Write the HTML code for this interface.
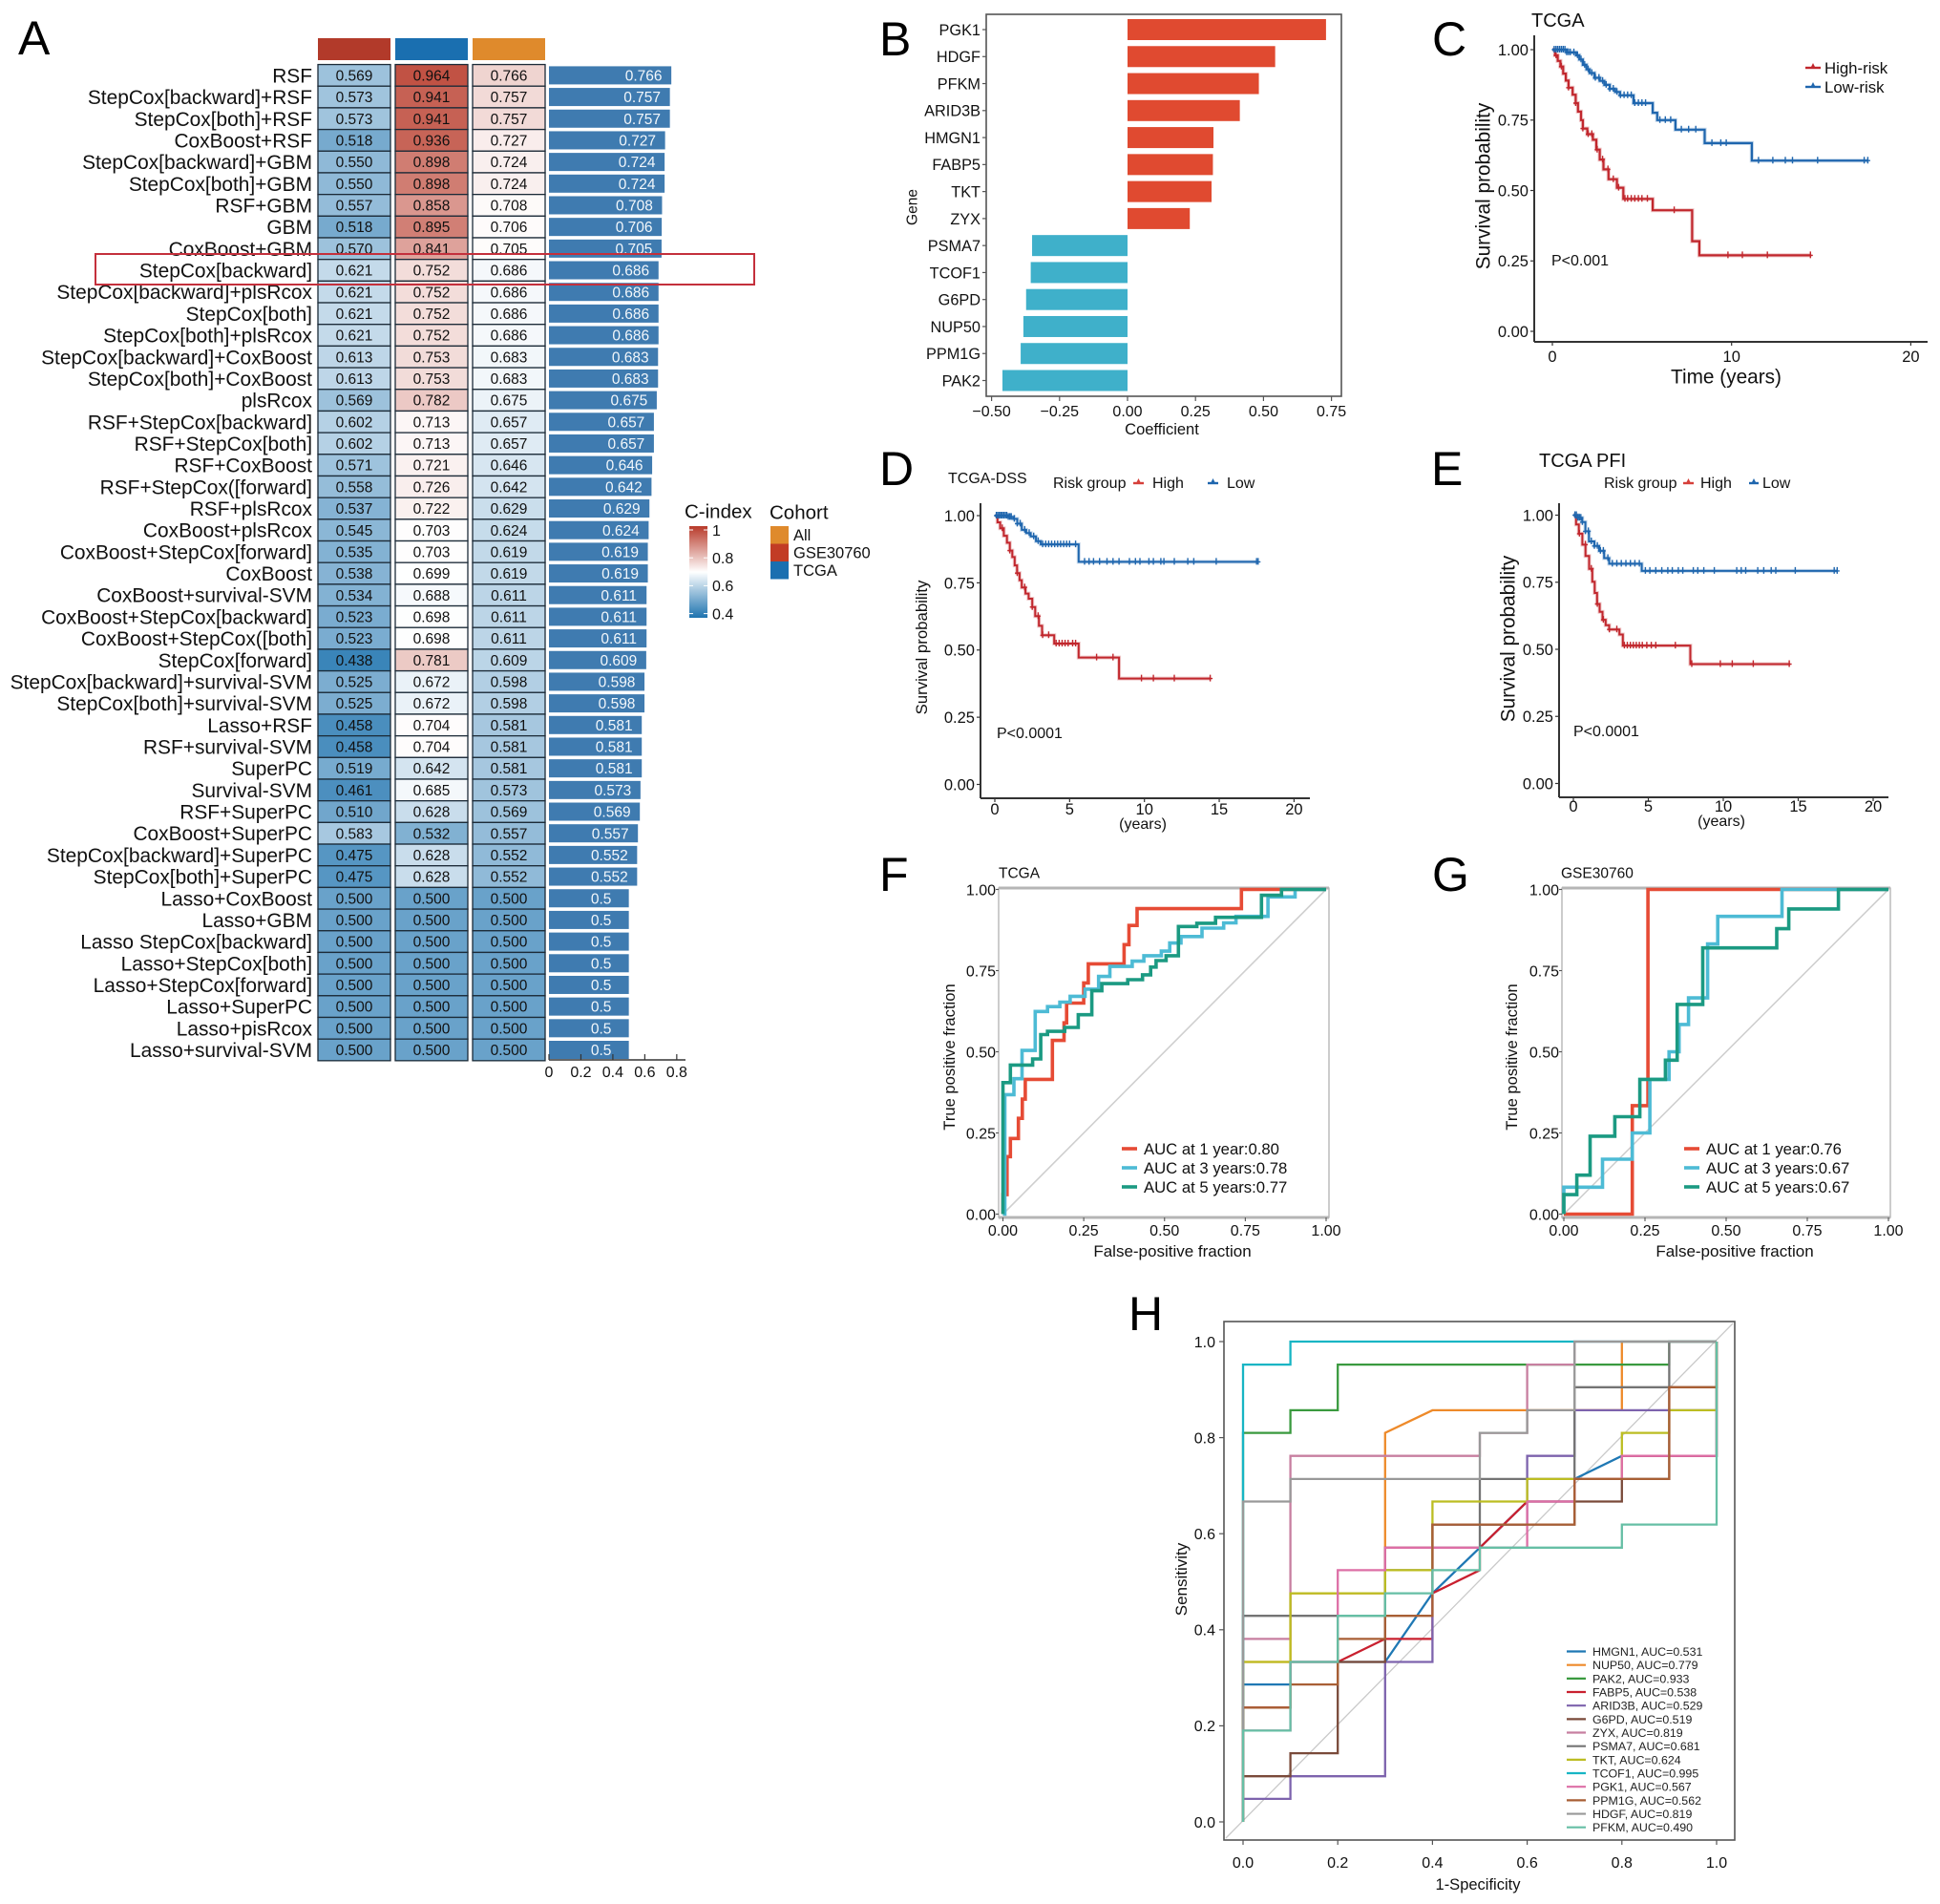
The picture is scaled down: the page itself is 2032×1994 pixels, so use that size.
<!DOCTYPE html>
<html lang="en">
<head>
<meta charset="utf-8">
<title>Prognostic model figure</title>
<style>
html,body{margin:0;padding:0;background:#fff;}
svg{display:block;font-family:"Liberation Sans",Arial,sans-serif;}
</style>
</head>
<body>
<svg id="fig" width="2032" height="1994" viewBox="0 0 2032 1994">
  <g id="panelA"></g>
  <g id="panelB"></g>
  <g id="panelC"></g>
  <g id="panelD"></g>
  <g id="panelE"></g>
  <g id="panelF"></g>
  <g id="panelG"></g>
  <g id="panelH"></g>
</svg>
<script>
/* ===== Panel A data ===== */
const modelNames=["RSF","StepCox[backward]+RSF","StepCox[both]+RSF","CoxBoost+RSF","StepCox[backward]+GBM","StepCox[both]+GBM","RSF+GBM","GBM","CoxBoost+GBM","StepCox[backward]","StepCox[backward]+plsRcox","StepCox[both]","StepCox[both]+plsRcox","StepCox[backward]+CoxBoost","StepCox[both]+CoxBoost","plsRcox","RSF+StepCox[backward]","RSF+StepCox[both]","RSF+CoxBoost","RSF+StepCox([forward]","RSF+plsRcox","CoxBoost+plsRcox","CoxBoost+StepCox[forward]","CoxBoost","CoxBoost+survival-SVM","CoxBoost+StepCox[backward]","CoxBoost+StepCox([both]","StepCox[forward]","StepCox[backward]+survival-SVM","StepCox[both]+survival-SVM","Lasso+RSF","RSF+survival-SVM","SuperPC","Survival-SVM","RSF+SuperPC","CoxBoost+SuperPC","StepCox[backward]+SuperPC","StepCox[both]+SuperPC","Lasso+CoxBoost","Lasso+GBM","Lasso StepCox[backward]","Lasso+StepCox[both]","Lasso+StepCox[forward]","Lasso+SuperPC","Lasso+pisRcox","Lasso+survival-SVM"];
const cindexGSE=[.569,.573,.573,.518,.550,.550,.557,.518,.570,.621,.621,.621,.621,.613,.613,.569,.602,.602,.571,.558,.537,.545,.535,.538,.534,.523,.523,.438,.525,.525,.458,.458,.519,.461,.510,.583,.475,.475,.5,.5,.5,.5,.5,.5,.5,.5];
const cindexTCGA=[.964,.941,.941,.936,.898,.898,.858,.895,.841,.752,.752,.752,.752,.753,.753,.782,.713,.713,.721,.726,.722,.703,.703,.699,.688,.698,.698,.781,.672,.672,.704,.704,.642,.685,.628,.532,.628,.628,.5,.5,.5,.5,.5,.5,.5,.5];
const cindexAll=[.766,.757,.757,.727,.724,.724,.708,.706,.705,.686,.686,.686,.686,.683,.683,.675,.657,.657,.646,.642,.629,.624,.619,.619,.611,.611,.611,.609,.598,.598,.581,.581,.581,.573,.569,.557,.552,.552,.5,.5,.5,.5,.5,.5,.5,.5];
const barTicks=[0,.2,.4,.6,.8];
const cindexLegendTicks=[1,.8,.6,.4];
const cohortNames=["All","GSE30760","TCGA"];

/* ===== Panel B data ===== */
const geneNames=["PGK1","HDGF","PFKM","ARID3B","HMGN1","FABP5","TKT","ZYX","PSMA7","TCOF1","G6PD","NUP50","PPM1G","PAK2"];
const geneCoefficients=[.73,.543,.483,.413,.316,.314,.309,.229,-.351,-.356,-.373,-.383,-.393,-.46];
const coefTicks=[-.5,-.25,0,.25,.5,.75];

/* ===== Survival data ===== */
const survTicks=[0,.25,.5,.75,1];
const cTimeTicks=[0,10,20];
const dTimeTicks=[0,5,10,15,20];
const cHighT=[.15,.3,.45,.6,.75,.9,1.13,1.3,1.43,1.6,1.7,1.95,2.26,2.45,2.64,2.85,3.13,3.6,3.96,5.6,7.8,8.2,14.45];
const cHighS=[.98,.96,.94,.915,.89,.865,.84,.81,.78,.75,.72,.70,.68,.645,.61,.575,.54,.51,.47,.43,.32,.27,.27];
const cHighCensor=[.2,.5,.9,1.3,1.7,2.0,2.2,2.5,2.8,3.1,3.4,3.7,4.05,4.2,4.4,4.6,4.8,5.0,5.3,6.8,9.8,10.6,12,14.4];
const cLowT=[.8,1.32,1.5,1.7,1.9,2.08,2.35,2.64,2.9,3.2,3.5,3.77,4.53,5.6,5.85,6.87,8.5,11.13,17.6];
const cLowS=[.99,.98,.965,.946,.93,.917,.90,.889,.875,.861,.85,.838,.81,.776,.75,.716,.668,.606,.606];
const cLowCensor=[.1,.2,.3,.4,.5,.6,.7,.8,.9,1,1.2,1.4,1.6,1.8,2,2.2,2.4,2.6,2.8,3,3.2,3.4,3.6,3.8,4,4.2,4.4,4.6,4.8,5,5.2,6,6.3,6.6,7.2,7.6,8,8.9,9.4,9.7,11.5,12.3,13,13.4,14.8,17.4,17.6];
const dHighT=[.18,.36,.6,.81,1,1.17,1.33,1.49,1.65,1.8,2.05,2.26,2.5,2.7,2.95,3.16,3.97,5.6,8.3,14.45];
const dHighS=[.975,.953,.925,.899,.87,.846,.815,.786,.76,.733,.71,.691,.66,.626,.59,.555,.524,.472,.394,.394];
const dHighCensor=[.5,1,1.5,2,2.5,2.9,3.2,3.6,4.1,4.3,4.5,4.7,4.9,5.2,5.4,6.8,7.9,9.8,10.6,12,14.4];
const dLowT=[.9,1.26,1.5,1.8,2.1,2.4,2.75,3.07,5.6,17.6];
const dLowS=[.995,.988,.97,.947,.935,.923,.905,.893,.828,.828];
const dLowCensor=[.1,.2,.3,.4,.5,.6,.7,.8,.9,1,1.1,1.3,1.5,1.7,2,2.3,2.6,2.9,3.2,3.4,3.6,3.8,4,4.2,4.4,4.6,4.8,5,5.4,6,6.3,6.6,7,7.5,7.9,8.3,9,9.4,9.7,10.3,10.6,11.1,11.3,12,12.9,13.3,14.8,17.5,17.6];
const eHighT=[.18,.36,.6,.81,1.05,1.26,1.42,1.58,1.75,1.94,2.15,2.39,3.07,3.3,7.8,14.45];
const eHighS=[.965,.931,.89,.848,.80,.752,.71,.669,.64,.61,.59,.574,.555,.514,.445,.445];
const eHighCensor=[.4,.8,1.2,1.6,2,2.4,2.9,3.4,3.6,3.8,4,4.2,4.4,4.6,4.9,5.2,5.5,6.8,7.9,9.8,10.6,12,14.4];
const eLowT=[.3,.59,.8,1.04,1.4,1.72,2.05,2.39,4.56,17.6];
const eLowS=[.99,.974,.94,.902,.885,.867,.84,.819,.792,.792];
const eLowCensor=[.1,.2,.3,.4,.5,.6,.8,1,1.2,1.4,1.6,1.8,2,2.3,2.6,2.9,3.2,3.5,3.8,4.1,4.4,4.8,5.1,5.5,5.9,6.3,6.6,7,7.3,8,8.3,8.7,9.4,10.9,11.2,11.5,12.3,12.7,13.2,13.5,14.8,17.4,17.6];

/* ===== Time-ROC data ===== */
const rocTicks=[0,.25,.5,.75,1];
const fRedFpr=[0,.0126,.023,.048,.06,.069,.153,.189,.197,.25,.264,.375,.39,.415,.738,1];
const fRedTpr=[.06,.177,.233,.295,.354,.415,.535,.589,.65,.712,.771,.83,.889,.941,1,1];
const fCyanFpr=[.006,.034,.059,.1,.138,.176,.208,.254,.296,.331,.4,.436,.49,.516,.551,.616,.683,.721,.82,.904,1];
const fCyanTpr=[.368,.417,.504,.624,.639,.653,.671,.693,.732,.763,.779,.796,.81,.835,.855,.881,.897,.917,.977,1,1];
const fGreenFpr=[0,.023,.092,.117,.138,.191,.233,.275,.306,.386,.432,.457,.474,.505,.543,.6,.658,.8,.862,1];
const fGreenTpr=[.405,.459,.478,.553,.563,.575,.614,.688,.71,.722,.737,.761,.781,.796,.886,.896,.914,.982,1,1];
const gRedFpr=[.211,.211,.259,1];
const gRedTpr=[0,.334,1,1];
const gCyanFpr=[0,.119,.211,.265,.324,.355,.384,.443,.474,.672,1];
const gCyanTpr=[.083,.169,.25,.415,.5,.584,.666,.832,.917,1,1];
const gGreenFpr=[0,.04,.081,.157,.234,.313,.349,.428,.656,.693,.846,1];
const gGreenTpr=[.06,.12,.24,.3,.415,.474,.646,.82,.879,.94,1,1];
const fLegendLabels=["AUC at 1 year:0.80","AUC at 3 years:0.78","AUC at 5 years:0.77"];
const gLegendLabels=["AUC at 1 year:0.76","AUC at 3 years:0.67","AUC at 5 years:0.67"];

/* ===== Panel H data ===== */
const hTicks=[0,.2,.4,.6,.8,1];
const hGenes=["HMGN1","NUP50","PAK2","FABP5","ARID3B","G6PD","ZYX","PSMA7","TKT","TCOF1","PGK1","PPM1G","HDGF","PFKM"];
const hAucs=["0.531","0.779","0.933","0.538","0.529","0.519","0.819","0.681","0.624","0.995","0.567","0.562","0.819","0.490"];
const hmgn1Fpr=[0,0,.1,.1,.3,.4,.5,.6,.7,.7,.8,1,1];
const hmgn1Tpr=[0,.286,.286,.333,.333,.476,.571,.667,.667,.714,.762,.762,1];
const nup50Fpr=[0,0,.1,.1,.3,.3,.4,.8,.8,1];
const nup50Tpr=[0,.333,.333,.476,.476,.81,.857,.857,1,1];
const pak2Fpr=[0,0,.1,.1,.2,.2,.9,.9,1];
const pak2Tpr=[0,.81,.81,.857,.857,.952,.952,1,1];
const fabp5Fpr=[0,0,.1,.1,.2,.3,.4,.4,.5,.5,.6,.7,.7,.8,.8,1,1];
const fabp5Tpr=[0,.238,.238,.333,.333,.381,.381,.476,.524,.571,.667,.667,.714,.714,.762,.762,1];
const arid3bFpr=[0,0,.1,.1,.3,.3,.4,.4,.6,.6,.7,.7,1,1];
const arid3bTpr=[0,.048,.048,.095,.095,.333,.333,.619,.619,.762,.762,.857,.857,1];
const g6pdFpr=[0,0,.1,.1,.2,.2,.3,.3,.4,.4,.7,.7,.8,.8,.9,.9,1,1];
const g6pdTpr=[0,.095,.095,.143,.143,.333,.333,.571,.571,.619,.619,.667,.667,.714,.714,.905,.905,1];
const zyxFpr=[0,0,.1,.1,.5,.5,.6,.6,.7,.7,1];
const zyxTpr=[0,.381,.381,.762,.762,.81,.81,.952,.952,1,1];
const psma7Fpr=[0,0,.3,.3,.4,.4,.5,.5,.7,.7,.9,.9,1];
const psma7Tpr=[0,.429,.429,.524,.524,.571,.571,.714,.714,.905,.905,1,1];
const tktFpr=[0,0,.1,.1,.3,.3,.4,.4,.6,.6,.8,.8,.9,.9,1,1];
const tktTpr=[0,.333,.333,.476,.476,.524,.524,.667,.667,.714,.714,.81,.81,.857,.857,1];
const tcof1Fpr=[0,0,.1,.1,1];
const tcof1Tpr=[0,.952,.952,1,1];
const pgk1Fpr=[0,0,.1,.1,.2,.2,.3,.3,.6,.6,.7,.7,.8,.8,1,1];
const pgk1Tpr=[0,.19,.19,.333,.333,.524,.524,.571,.571,.667,.667,.714,.714,.762,.762,1];
const ppm1gFpr=[0,0,.1,.1,.2,.2,.3,.3,.4,.4,.7,.7,.9,.9,1,1];
const ppm1gTpr=[0,.238,.238,.286,.286,.381,.381,.429,.429,.619,.619,.714,.714,.905,.905,1];
const hdgfFpr=[0,0,.1,.1,.5,.5,.6,.6,.7,.7,1];
const hdgfTpr=[0,.667,.667,.714,.714,.81,.81,.857,.857,1,1];
const pfkmFpr=[0,0,.1,.1,.2,.2,.3,.3,.4,.4,.5,.5,.8,.8,1,1];
const pfkmTpr=[0,.19,.19,.333,.333,.429,.429,.476,.476,.524,.524,.571,.571,.619,.619,1];

/* ===== Helpers ===== */
const NS=document.getElementById('fig').namespaceURI;
function mk(tag,attrs,parent){
  const el=document.createElementNS(NS,tag);
  for(const k in attrs){el.setAttribute(k,attrs[k]);}
  parent.appendChild(el);
  return el;
}
function txt(parent,name,x,y,str,size,anchor,fill,rot){
  const el=mk('text',{x:x,y:y+size*0.36,'font-size':size,'text-anchor':anchor||'start',fill:fill||'#111'},parent);
  if(rot){el.setAttribute('transform','rotate('+rot+' '+x+' '+y+')');}
  
  
  el.textContent=str;
  return el;
}
function ln(parent,name,x1,y1,x2,y2,stroke,w){
  const el=mk('line',{x1:x1,y1:y1,x2:x2,y2:y2,stroke:stroke,'stroke-width':w},parent);
  
  
  return el;
}
function lerp(a,b,t){return Math.round(a+(b-a)*t);}
function heatColor(v){
  const lo=[30,115,175],mid=[255,255,255],hi=[184,58,42];
  let c;
  if(v<=.7){const t=Math.max(0,(v-.4)/.3);c=[lerp(lo[0],mid[0],t),lerp(lo[1],mid[1],t),lerp(lo[2],mid[2],t)];}
  else{const t=Math.min(1,(v-.7)/.3);c=[lerp(mid[0],hi[0],t),lerp(mid[1],hi[1],t),lerp(mid[2],hi[2],t)];}
  return 'rgb('+c.join(',')+')';
}
function letter(parent,ch,x,baseline){
  const el=mk('text',{x:x,y:baseline,'font-size':50,fill:'#000'},parent);
  
  
  el.textContent=ch;
}

/* ===== Panel A ===== */
(function(){
  const g=document.getElementById('panelA');
  letter(g,'A',19,57);
  const rowY=i=>78.9+i*22.68;
  const colX=[333,414,495],colW=76;
  const colData=[cindexGSE,cindexTCGA,cindexAll];
  const headColors=['#b23a2a','#1a6fb0','#df8a2c'];
  colX.forEach(function(x,c){
    const h=mk('rect',{x:x,y:40,width:colW,height:23,fill:headColors[c]},g);
    
    
  });
  const barX=v=>575+v*167.3;
  modelNames.forEach(function(name,i){
    const y=rowY(i);
    txt(g,'model-label',327,y,name,20.9,'end','#111');
    colX.forEach(function(x,c){
      const v=colData[c][i];
      const cell=mk('rect',{x:x,y:y-11.34,width:colW,height:22.68,fill:heatColor(v),stroke:'#1c2b38','stroke-width':1.3},g);
      
      
      txt(g,'cell-value',x+colW/2,y,v.toFixed(3),15.5,'middle','#111');
    });
    const b=mk('rect',{x:barX(0),y:y-9.5,width:barX(cindexAll[i])-barX(0),height:19,fill:'#3f7bb0'},g);
    
    
    txt(g,'bar-value',barX(cindexAll[i])-29,y,String(cindexAll[i]),15.5,'middle','#f2f7fb');
  });
  ln(g,'bar-axis-line',575,1110,718,1110,'#333',1.6);
  barTicks.forEach(function(t){
    ln(g,'bar-axis-tick',barX(t),1110,barX(t),1104,'#333',1.2);
    txt(g,'bar-axis-tick-label',barX(t),1122,t===0?'0':String(t),16,'middle','#111');
  });
  const hl=mk('rect',{x:100,y:266,width:690,height:32,fill:'none',stroke:'#c4303c','stroke-width':2},g);
  
  
  /* C-index legend */
  txt(g,'cindex-legend-title',717,535,'C-index',20.5,'start','#111');
  const defs=mk('defs',{},g);
  const grad=mk('linearGradient',{id:'cbar',x1:0,y1:0,x2:0,y2:1},defs);
  mk('stop',{offset:'0%','stop-color':heatColor(1)},grad);
  mk('stop',{offset:'50%','stop-color':'#ffffff'},grad);
  mk('stop',{offset:'100%','stop-color':heatColor(.4)},grad);
  const cb=mk('rect',{x:722,y:551,width:19,height:96,fill:'url(#cbar)'},g);
  
  
  const cbY=v=>555+(1-v)*146;
  cindexLegendTicks.forEach(function(t){
    ln(g,'colorbar-tick',722,cbY(t),726,cbY(t),'#fff',1);
    ln(g,'colorbar-tick',737,cbY(t),741,cbY(t),'#fff',1);
    txt(g,'colorbar-label',746,cbY(t),String(t),16,'start','#111');
  });
  /* Cohort legend */
  txt(g,'cohort-legend-title',806,536,'Cohort',20.5,'start','#111');
  const cohortColors=['#df8a2c','#c23c25','#1a6fb0'];
  cohortNames.forEach(function(n,i){
    const sw=mk('rect',{x:807,y:551+i*18.5,width:19,height:18.5,fill:cohortColors[i]},g);
    
    
    txt(g,'cohort-legend-label',831,560+i*18.5,n,16.5,'start','#111');
  });
})();

/* ===== Panel B ===== */
(function(){
  const g=document.getElementById('panelB');
  letter(g,'B',921,58);
  const x=v=>1181+v*284.8;
  const y=i=>31+i*28.27;
  const box=mk('rect',{x:1033,y:15,width:372,height:400,fill:'none',stroke:'#555','stroke-width':1.6},g);
  
  
  geneNames.forEach(function(n,i){
    const v=geneCoefficients[i];
    const b=mk('rect',{x:Math.min(x(0),x(v)),y:y(i)-11,width:Math.abs(x(v)-x(0)),height:22,fill:v>0?'#e04a30':'#3fb0ca'},g);
    
    
    ln(g,'gene-tick',1029,y(i),1033,y(i),'#555',1.2);
    txt(g,'gene-label',1027,y(i),n,16.3,'end','#111');
  });
  coefTicks.forEach(function(t){
    ln(g,'coefficient-tick',x(t),415,x(t),420,'#555',1.2);
    txt(g,'coefficient-tick-label',x(t),430,t.toFixed(2).replace('-','\u2212'),16,'middle','#111');
  });
  txt(g,'x-axis-title',1217,449,'Coefficient',16.5,'middle','#111');
  txt(g,'y-axis-title',955,217,'Gene',15.5,'middle','#111',-90);
})();

/* ===== Survival panels ===== */
function stepS(T,S,t){let s=1;for(let i=0;i<T.length;i++){if(T[i]<=t){s=S[i];}}return s;}
function kmCurve(g,name,T,S,censor,color,xS,yS,lw){
  let d='M'+xS(0)+' '+yS(1);
  T.forEach(function(t,i){
    d+=' H'+xS(t).toFixed(1)+' V'+yS(S[i]).toFixed(1);
  });
  const halo=mk('path',{d:d,fill:'none',stroke:color,'stroke-opacity':.25,'stroke-width':lw+2},g);
  
  
  const p=mk('path',{d:d,fill:'none',stroke:color,'stroke-width':lw},g);
  
  
  censor.forEach(function(t){
    const cx=xS(t),cy=yS(stepS(T,S,t));
    const m=mk('path',{d:'M'+cx.toFixed(1)+' '+(cy-4).toFixed(1)+' V'+(cy+3).toFixed(1)+' M'+(cx-2.5).toFixed(1)+' '+cy.toFixed(1)+' H'+(cx+2.5).toFixed(1),stroke:color,'stroke-width':1.4,fill:'none'},g);
    
    
  });
}
function kmAxes(g,cfg){
  ln(g,'y-axis-line',cfg.left,cfg.top,cfg.left,cfg.bottom,'#333',2);
  ln(g,'x-axis-line',cfg.left,cfg.bottom,cfg.right,cfg.bottom,'#333',2);
  survTicks.forEach(function(t){
    ln(g,'y-axis-tick',cfg.left-4,cfg.y(t),cfg.left,cfg.y(t),'#333',1.2);
    txt(g,'y-axis-tick-label',cfg.left-6,cfg.y(t),t.toFixed(2),16.5,'end','#111');
  });
  cfg.xticks.forEach(function(t){
    ln(g,'x-axis-tick',cfg.x(t),cfg.bottom,cfg.x(t),cfg.bottom+4,'#333',1.2);
    txt(g,'x-axis-tick-label',cfg.x(t),cfg.bottom+cfg.labelGap,String(t),16.5,'middle','#111');
  });
}
function legendKey(g,x,y,color,w){
  ln(g,'legend-key-line',x,y,x+w,y,color,2.4);
  const m=mk('path',{d:'M'+(x+w/2-3)+' '+(y+1)+' L'+(x+w/2)+' '+(y-5)+' L'+(x+w/2+3)+' '+(y+1)+' Z',fill:color},g);
  
  
}
const RED='#c1272d',BLUE='#1f66ae';
(function(){
  const g=document.getElementById('panelC');
  letter(g,'C',1500,58);
  const x=t=>1626+t*18.77;
  const y=s=>347-s*295;
  kmAxes(g,{left:1607,right:2019,top:37,bottom:358,x:x,y:y,xticks:cTimeTicks,labelGap:15});
  kmCurve(g,'high-risk-curve',cHighT,cHighS,cHighCensor,RED,x,y,2.2);
  kmCurve(g,'low-risk-curve',cLowT,cLowS,cLowCensor,BLUE,x,y,2.2);
  txt(g,'chart-title',1604,21,'TCGA',20,'start','#111');
  txt(g,'y-axis-title',1553,195,'Survival probability',20.8,'middle','#111',-90);
  txt(g,'x-axis-title',1808,394,'Time (years)',20.8,'middle','#111');
  txt(g,'p-value',1625,272,'P<0.001',16,'start','#111');
  legendKey(g,1891,71,RED,16);
  txt(g,'legend-high-risk',1911,71,'High-risk',16.8,'start','#111');
  legendKey(g,1891,91,BLUE,16);
  txt(g,'legend-low-risk',1911,91,'Low-risk',16.8,'start','#111');
})();
(function(){
  const g=document.getElementById('panelD');
  letter(g,'D',921,508);
  const x=t=>1042+t*15.67;
  const y=s=>821.5-s*281.5;
  kmAxes(g,{left:1027,right:1372,top:527,bottom:836,x:x,y:y,xticks:dTimeTicks,labelGap:11});
  kmCurve(g,'high-risk-curve',dHighT,dHighS,dHighCensor,RED,x,y,2);
  kmCurve(g,'low-risk-curve',dLowT,dLowS,dLowCensor,BLUE,x,y,2);
  txt(g,'chart-title',993,500,'TCGA-DSS',16,'start','#111');
  txt(g,'legend-title',1103,505,'Risk group',16,'start','#111');
  legendKey(g,1187,506,'#d6403a',11);
  txt(g,'legend-high',1207,505,'High',16,'start','#111');
  legendKey(g,1265,506,BLUE,11);
  txt(g,'legend-low',1285,505,'Low',16,'start','#111');
  txt(g,'y-axis-title',965,678,'Survival probability',16.8,'middle','#111',-90);
  txt(g,'x-axis-title',1197,862,'(years)',16,'middle','#111');
  txt(g,'p-value',1044,767,'P<0.0001',16,'start','#111');
})();
(function(){
  const g=document.getElementById('panelE');
  letter(g,'E',1499,508);
  const x=t=>1648+t*15.7;
  const y=s=>820.5-s*281;
  kmAxes(g,{left:1633,right:1978,top:527,bottom:835,x:x,y:y,xticks:dTimeTicks,labelGap:9});
  kmCurve(g,'high-risk-curve',eHighT,eHighS,eHighCensor,RED,x,y,2);
  kmCurve(g,'low-risk-curve',eLowT,eLowS,eLowCensor,BLUE,x,y,2);
  txt(g,'chart-title',1612,482,'TCGA PFI',20,'start','#111');
  txt(g,'legend-title',1680,505,'Risk group',16,'start','#111');
  legendKey(g,1763,506,'#d6403a',11);
  txt(g,'legend-high',1781,505,'High',16,'start','#111');
  legendKey(g,1832,506,BLUE,10);
  txt(g,'legend-low',1846,505,'Low',16,'start','#111');
  txt(g,'y-axis-title',1579,669,'Survival probability',20.8,'middle','#111',-90);
  txt(g,'x-axis-title',1803,859,'(years)',16,'middle','#111');
  txt(g,'p-value',1648,765,'P<0.0001',16,'start','#111');
})();

/* ===== Time ROC panels ===== */
function rocCurve(g,name,fpr,tpr,color,x,y){
  let d='M'+x(0)+' '+y(0);
  fpr.forEach(function(f,i){
    d+=' H'+x(f).toFixed(1)+' V'+y(tpr[i]).toFixed(1);
  });
  const p=mk('path',{d:d,fill:'none',stroke:color,'stroke-width':3.6},g);
  
  
}
function rocFrame(g,cfg){
  const b=mk('rect',{x:cfg.left,y:930,width:cfg.right-cfg.left,height:345,fill:'none',stroke:'#aaa','stroke-width':1.2},g);
  
  
  ln(g,'top-border',cfg.left,930,cfg.right,930,'#b5b5b5',3);
  ln(g,'bottom-border',cfg.left,1275,cfg.right,1275,'#b5b5b5',3);
  ln(g,'reference-diagonal',cfg.x(0),cfg.y(0),cfg.x(1),cfg.y(1),'#cfcfcf',1.6);
  rocTicks.forEach(function(t){
    ln(g,'y-axis-tick',cfg.left-3,cfg.y(t),cfg.left,cfg.y(t),'#555',1.1);
    txt(g,'y-axis-tick-label',cfg.left-3,cfg.y(t),t.toFixed(2),16,'end','#111');
    ln(g,'x-axis-tick',cfg.x(t),1275,cfg.x(t),1279,'#555',1.1);
    txt(g,'x-axis-tick-label',cfg.x(t),1288,t.toFixed(2),16,'middle','#111');
  });
}
const NPG=['#e64b35','#4dbbd5','#1b9a82'];
(function(){
  const g=document.getElementById('panelF');
  letter(g,'F',921,933);
  const x=v=>1050.5+v*338.5;
  const y=v=>1271.5-v*340;
  rocFrame(g,{left:1046,right:1392,x:x,y:y});
  rocCurve(g,'auc-1-year-curve',fRedFpr,fRedTpr,NPG[0],x,y);
  rocCurve(g,'auc-3-year-curve',fCyanFpr,fCyanTpr,NPG[1],x,y);
  rocCurve(g,'auc-5-year-curve',fGreenFpr,fGreenTpr,NPG[2],x,y);
  txt(g,'chart-title',1046,914,'TCGA',15.5,'start','#111');
  txt(g,'y-axis-title',994,1107,'True positive fraction',16.6,'middle','#111',-90);
  txt(g,'x-axis-title',1228,1310,'False-positive fraction',17,'middle','#111');
  fLegendLabels.forEach(function(l,i){
    ln(g,'legend-key',1175,1203+i*20,1191,1203+i*20,NPG[i],3.6);
    txt(g,'legend-label',1198,1203+i*20,l,16.7,'start','#111');
  });
})();
(function(){
  const g=document.getElementById('panelG');
  letter(g,'G',1500,933);
  const x=v=>1638+v*340;
  const y=v=>1271.5-v*340;
  rocFrame(g,{left:1636,right:1980,x:x,y:y});
  rocCurve(g,'auc-1-year-curve',gRedFpr,gRedTpr,NPG[0],x,y);
  rocCurve(g,'auc-3-year-curve',gCyanFpr,gCyanTpr,NPG[1],x,y);
  rocCurve(g,'auc-5-year-curve',gGreenFpr,gGreenTpr,NPG[2],x,y);
  txt(g,'chart-title',1635,914,'GSE30760',15.5,'start','#111');
  txt(g,'y-axis-title',1583,1107,'True positive fraction',16.6,'middle','#111',-90);
  txt(g,'x-axis-title',1817,1310,'False-positive fraction',17,'middle','#111');
  gLegendLabels.forEach(function(l,i){
    ln(g,'legend-key',1764,1203+i*20,1780,1203+i*20,NPG[i],3.6);
    txt(g,'legend-label',1787,1203+i*20,l,16.7,'start','#111');
  });
})();

/* ===== Panel H ===== */
(function(){
  const g=document.getElementById('panelH');
  letter(g,'H',1182,1393);
  const x=v=>1302+v*496;
  const y=v=>1908-v*503;
  const b=mk('rect',{x:1282,y:1384,width:535,height:543,fill:'none',stroke:'#555','stroke-width':1.6},g);
  
  
  ln(g,'reference-diagonal',1284,1925,1815,1386,'#c9c9c9',1.3);
  const allFpr=[hmgn1Fpr,nup50Fpr,pak2Fpr,fabp5Fpr,arid3bFpr,g6pdFpr,zyxFpr,psma7Fpr,tktFpr,tcof1Fpr,pgk1Fpr,ppm1gFpr,hdgfFpr,pfkmFpr];
  const allTpr=[hmgn1Tpr,nup50Tpr,pak2Tpr,fabp5Tpr,arid3bTpr,g6pdTpr,zyxTpr,psma7Tpr,tktTpr,tcof1Tpr,pgk1Tpr,ppm1gTpr,hdgfTpr,pfkmTpr];
  const colors=['#1f78b4','#ee8a2a','#3a9a3f','#c9202f','#7d63ad','#7a4a3a','#c77fa0','#747474','#bcbd22','#17b5c4','#dd6fa6','#a85f35','#999999','#66bfa5'];
  hGenes.forEach(function(n,i){
    const pts=allFpr[i].map(function(f,j){return x(f).toFixed(1)+','+y(allTpr[i][j]).toFixed(1);}).join(' ');
    const c=mk('polyline',{points:pts,fill:'none',stroke:colors[i],'stroke-width':2.3},g);
    
    
    const ky=1729.5+i*14.17;
    ln(g,'legend-key',1641,ky,1661,ky,colors[i],2.2);
    txt(g,'legend-label',1668,ky,n+', AUC='+hAucs[i],12.4,'start','#222');
  });
  hTicks.forEach(function(t){
    ln(g,'y-axis-tick',1277,y(t),1282,y(t),'#555',1.2);
    txt(g,'y-axis-tick-label',1273,y(t),t.toFixed(1),16,'end','#111');
    ln(g,'x-axis-tick',x(t),1927,x(t),1932,'#555',1.2);
    txt(g,'x-axis-tick-label',x(t),1950,t.toFixed(1),16,'middle','#111');
  });
  txt(g,'y-axis-title',1237,1654,'Sensitivity',17,'middle','#111',-90);
  txt(g,'x-axis-title',1548,1973,'1-Specificity',16.5,'middle','#111');
})();
</script>
</body>
</html>
